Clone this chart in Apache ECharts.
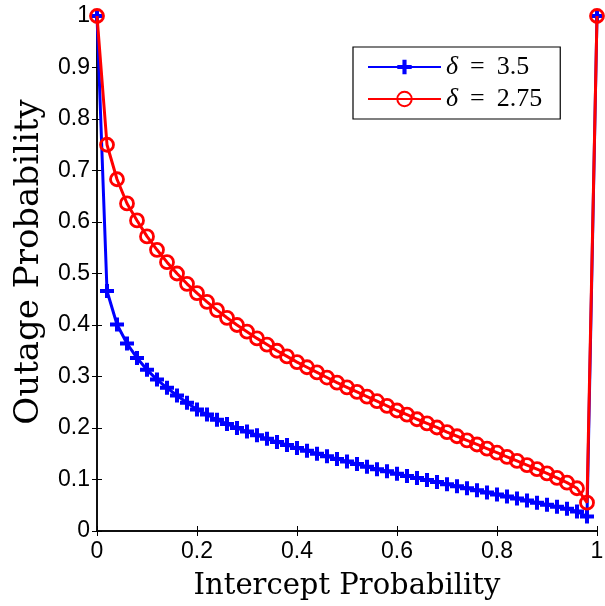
<!DOCTYPE html>
<html><head><meta charset="utf-8">
<script src="https://cdn.jsdelivr.net/npm/echarts@6/dist/echarts.min.js"></script>
<style>html,body{margin:0;padding:0;background:#fff}#c{width:605px;height:606px}</style>
</head><body><div id="c"></div>
<script>
var xs = [0,0.02,0.04,0.06,0.08,0.10,0.12,0.14,0.16,0.18,0.20,0.22,0.24,0.26,0.28,0.30,0.32,0.34,0.36,0.38,0.40,0.42,0.44,0.46,0.48,0.50,0.52,0.54,0.56,0.58,0.60,0.62,0.64,0.66,0.68,0.70,0.72,0.74,0.76,0.78,0.80,0.82,0.84,0.86,0.88,0.90,0.92,0.94,0.96,0.98,1.0];
var blueVals = [1.0,0.466,0.401,0.364,0.336,0.313,0.294,0.278,0.263,0.249,0.236,0.226,0.216,0.208,0.200,0.193,0.186,0.179,0.173,0.167,0.161,0.156,0.150,0.145,0.140,0.135,0.130,0.125,0.120,0.116,0.111,0.107,0.103,0.099,0.095,0.091,0.087,0.083,0.079,0.075,0.071,0.067,0.063,0.059,0.055,0.051,0.047,0.043,0.038,0.028,1.0];
var redVals = [1.0,0.750,0.683,0.636,0.603,0.572,0.546,0.522,0.500,0.480,0.462,0.445,0.429,0.414,0.400,0.387,0.374,0.362,0.350,0.339,0.328,0.318,0.308,0.298,0.288,0.279,0.270,0.261,0.252,0.243,0.234,0.226,0.217,0.209,0.201,0.192,0.184,0.176,0.168,0.160,0.152,0.144,0.136,0.128,0.120,0.112,0.103,0.094,0.083,0.055,1.0];
var seriesNames = ['δ = 3.5', 'δ = 2.75'];
var xLabel = 'Intercept Probability';
var yLabel = 'Outage Probability';

function pairs(v){ return xs.map(function(x,i){ return [x, v[i]]; }); }
var plusPath = 'path://M-2,-7 L2,-7 L2,-2 L7,-2 L7,2 L2,2 L2,7 L-2,7 L-2,2 L-7,2 L-7,-2 L-2,-2 Z';
var tickFont = {fontFamily:'Liberation Sans', fontSize:23, color:'#000'};
function fmt(v){ return v===0?'0':(v===1?'1':String(+v.toFixed(1))); }

var chart = echarts.init(document.getElementById('c'), null, {renderer:'canvas'});
chart.setOption({
  animation:false,
  backgroundColor:'#fff',
  grid:{left:97, right:8, top:16, bottom:75, show:false, containLabel:false, outerBoundsMode:'none'},
  graphic:[{
    type:'text', x:29, y:262, rotation:Math.PI/2, silent:true,
    style:{text:yLabel, font:'34px "DejaVu Serif"', fill:'#000', align:'center', verticalAlign:'middle'}
  }],
  xAxis:[{
    type:'value', min:0, max:1, interval:0.2, position:'bottom',
    name:xLabel, nameLocation:'middle', nameGap:41,
    nameTextStyle:{fontFamily:'DejaVu Serif', fontSize:29, color:'#000'},
    axisLine:{show:true, lineStyle:{color:'#000', width:1.5}},
    axisTick:{show:true, inside:true, length:5, lineStyle:{color:'#000'}},
    axisLabel:Object.assign({margin:9, formatter:fmt}, tickFont),
    splitLine:{show:false}
  },{
    type:'value', min:0, max:1, interval:0.2, position:'top',
    axisLine:{show:true, lineStyle:{color:'#000', width:1.5}},
    axisTick:{show:true, inside:true, length:5, lineStyle:{color:'#000'}},
    axisLabel:{show:false}, splitLine:{show:false}
  }],
  yAxis:[{
    type:'value', min:0, max:1, interval:0.1, position:'left',
    axisLine:{show:true, lineStyle:{color:'#000', width:1.5}},
    axisTick:{show:true, inside:true, length:5, lineStyle:{color:'#000'}},
    axisLabel:Object.assign({margin:7, formatter:fmt}, tickFont),
    splitLine:{show:false}
  },{
    type:'value', min:0, max:1, interval:0.1, position:'right',
    axisLine:{show:true, lineStyle:{color:'#000', width:1.5}},
    axisTick:{show:true, inside:true, length:5, lineStyle:{color:'#000'}},
    axisLabel:{show:false}, splitLine:{show:false}
  }],
  legend:{
    left:353, top:47, orient:'vertical',
    padding:[7,18,7,14], itemGap:6, itemWidth:73, itemHeight:18,
    borderColor:'#000', borderWidth:1.2, borderRadius:0, backgroundColor:'#fff',
    data:seriesNames,
    formatter:function(n){ return '{i|δ}{e|=}' + n.split('= ')[1]; },
    textStyle:{fontFamily:'Liberation Serif', fontSize:26, color:'#000',
      rich:{i:{fontFamily:'Liberation Serif', fontStyle:'italic', fontSize:26, color:'#000'},
            e:{fontFamily:'Liberation Serif', fontSize:26, color:'#000', padding:[0,12,0,12]}}}
  },
  series:[{
    name:seriesNames[0], type:'line', data:pairs(blueVals),
    symbol:plusPath, symbolSize:14, showAllSymbol:true,
    lineStyle:{color:'#0000ff', width:3}, itemStyle:{color:'#0000ff'}, z:2
  },{
    name:seriesNames[1], type:'line', data:pairs(redVals),
    symbol:'circle', symbolSize:13, showAllSymbol:true,
    lineStyle:{color:'#ff0000', width:3}, itemStyle:{color:'rgba(0,0,0,0)', borderColor:'#ff0000', borderWidth:2.8}, z:3
  }]
});
</script></body></html>
